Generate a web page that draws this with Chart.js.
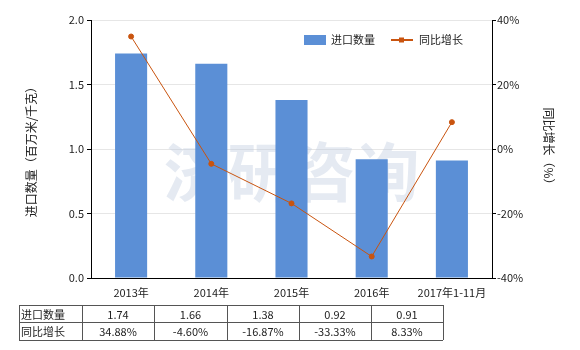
<!DOCTYPE html>
<html>
<head>
<meta charset="utf-8">
<script src="https://cdn.jsdelivr.net/npm/chart.js@4/dist/chart.umd.min.js"></script>
<style>
  html, body { margin: 0; padding: 0; background: #fff; }
  #wrap { width: 580px; height: 350px; position: relative; }
</style>
</head>
<body>
<div id="wrap"><canvas id="chart"></canvas></div>
<script>
// import volume vs year-on-year growth
const categories = ['2013年', '2014年', '2015年', '2016年', '2017年1-11月'];
const volume = [1.74, 1.66, 1.38, 0.92, 0.91];
const growth = [34.88, -4.60, -16.87, -33.33, 8.33];
const volumeLabels = ['1.74', '1.66', '1.38', '0.92', '0.91'];
const growthLabels = ['34.88%', '-4.60%', '-16.87%', '-33.33%', '8.33%'];

const barColor = '#5B8FD6';
const lineColor = '#C9540F';
const font = '"Noto Sans CJK SC", "Noto Sans", sans-serif';

// watermark, legend and data table drawn on the canvas
const extras = {
    id: 'extras',
    beforeDatasetsDraw(chart) {
        const ctx = chart.ctx;
        const area = chart.chartArea;
        ctx.save();
        ctx.fillStyle = 'rgba(190, 202, 222, 0.4)';
        ctx.font = 'bold 64px ' + font;
        ctx.textAlign = 'center';
        ctx.textBaseline = 'middle';
        ctx.fillText('济研咨询', (area.left + area.right) / 2, 172);
        ctx.restore();
    },
    afterDraw(chart) {
        const ctx = chart.ctx;
        ctx.save();

        // legend
        ctx.font = '11px ' + font;
        ctx.textBaseline = 'middle';
        ctx.fillStyle = barColor;
        ctx.fillRect(304, 35, 22, 10);
        ctx.fillStyle = '#222';
        ctx.textAlign = 'left';
        ctx.fillText('进口数量', 331, 40);
        ctx.strokeStyle = lineColor;
        ctx.lineWidth = 2;
        ctx.beginPath();
        ctx.moveTo(391, 40);
        ctx.lineTo(413, 40);
        ctx.stroke();
        ctx.fillStyle = lineColor;
        ctx.fillRect(399, 37.5, 5, 5);
        ctx.fillStyle = '#222';
        ctx.fillText('同比增长', 419, 40);

        // table
        const cols = [19, 82, 154, 227, 299, 371, 443];
        const rows = [305, 322, 340];
        ctx.strokeStyle = '#555';
        ctx.lineWidth = 1;
        ctx.beginPath();
        rows.forEach(y => { ctx.moveTo(cols[0], y + 0.5); ctx.lineTo(cols[cols.length - 1], y + 0.5); });
        cols.forEach(x => { ctx.moveTo(x + 0.5, rows[0]); ctx.lineTo(x + 0.5, rows[rows.length - 1]); });
        ctx.stroke();

        const rowData = [['进口数量', volumeLabels], ['同比增长', growthLabels]];
        ctx.fillStyle = '#222';
        ctx.font = '11px ' + font;
        rowData.forEach((r, i) => {
            const y = (rows[i] + rows[i + 1]) / 2 + 1;
            ctx.textAlign = 'left';
            ctx.fillText(r[0], cols[0] + 2, y);
            ctx.textAlign = 'center';
            r[1].forEach((t, j) => {
                ctx.fillText(t, (cols[j + 1] + cols[j + 2]) / 2, y);
            });
        });
        ctx.restore();
    }
};

const ctx = document.getElementById('chart').getContext('2d');
new Chart(ctx, {
    data: {
        labels: categories,
        datasets: [
            {
                type: 'line',
                label: '同比增长',
                data: growth,
                yAxisID: 'y1',
                borderColor: lineColor,
                backgroundColor: lineColor,
                borderWidth: 1,
                pointRadius: 2.5,
                pointHoverRadius: 2.5,
                tension: 0,
                order: 1
            },
            {
                type: 'bar',
                label: '进口数量',
                data: volume,
                yAxisID: 'y',
                backgroundColor: barColor,
                categoryPercentage: 1,
                barPercentage: 0.4,
                order: 2
            }
        ]
    },
    options: {
        responsive: true,
        maintainAspectRatio: false,
        animation: false,
        layout: { padding: { top: 20, left: 0, right: 0, bottom: 0 } },
        plugins: {
            legend: { display: false },
            tooltip: { enabled: false }
        },
        scales: {
            x: {
                grid: { display: false },
                border: { color: '#000' },
                ticks: { color: '#222', font: { family: font, size: 11 }, padding: 0, maxRotation: 0 },
                afterFit(scale) { scale.height = 72; }
            },
            y: {
                position: 'left',
                min: 0,
                max: 2,
                ticks: {
                    stepSize: 0.5,
                    color: '#222',
                    font: { family: font, size: 11 },
                    padding: 3,
                    callback: v => v.toFixed(1)
                },
                grid: { color: '#e6e6e6', tickColor: '#000', tickLength: 4 },
                border: { color: '#000' },
                title: {
                    display: true,
                    text: '进口数量（百万米/千克）',
                    color: '#222',
                    font: { family: font, size: 12 },
                    padding: { top: 24, bottom: 0 }
                },
                afterFit(scale) { scale.width = 91; }
            },
            y1: {
                position: 'right',
                min: -40,
                max: 40,
                ticks: {
                    stepSize: 20,
                    color: '#222',
                    font: { family: font, size: 11 },
                    padding: 1,
                    callback: v => v + '%'
                },
                grid: { drawOnChartArea: false, tickColor: '#000', tickLength: 4 },
                border: { color: '#000' },
                title: {
                    display: true,
                    text: '同比增长（%）',
                    color: '#222',
                    font: { family: font, size: 12 },
                    padding: { top: 24, bottom: 0 }
                },
                afterFit(scale) { scale.width = 88; }
            }
        }
    },
    plugins: [extras]
});
</script>
</body>
</html>
